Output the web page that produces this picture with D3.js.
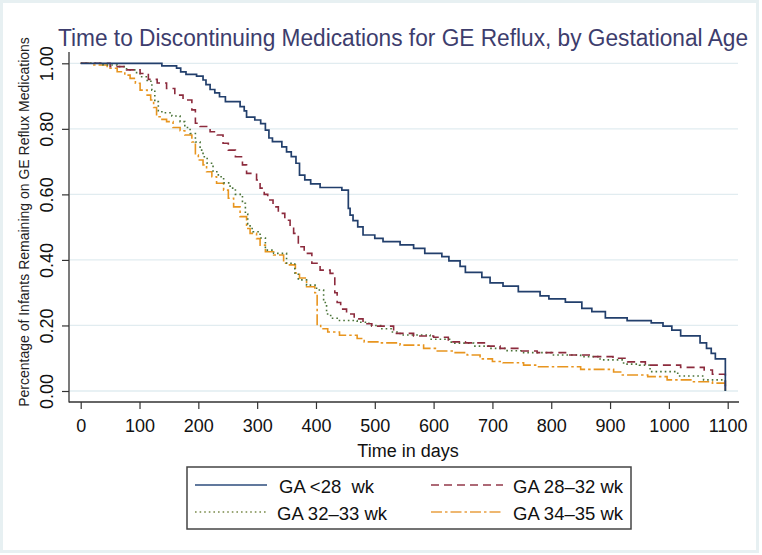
<!DOCTYPE html>
<html><head><meta charset="utf-8">
<script src="https://cdn.jsdelivr.net/npm/d3@7"></script>
<style>
body{margin:0;background:#fff}
svg{display:block;font-family:"Liberation Sans",Arial,Helvetica,sans-serif}
</style>
</head><body>
<svg id="chart" width="762" height="555"></svg>
<script>
// ---- data ----
const titleText = "Time to Discontinuing  Medications  for GE Reflux, by Gestational Age";
const xLabel = "Time in days";
const yLabel = "Percentage of Infants Remaining on GE Reflux Medications";
const xTicks = [0,100,200,300,400,500,600,700,800,900,1000,1100];
const yTicks = [0,0.2,0.4,0.6,0.8,1.0];
const seriesNames = ["GA <28  wk","GA 28\u201332 wk","GA 32\u201333 wk","GA 34\u201335 wk"];

// [day, proportion remaining] step points
const gaLt28 = [[0,1.0],[138,0.992],[163,0.985],[170,0.974],[179,0.966],[197,0.961],[208,0.949],[213,0.935],[220,0.92],[228,0.91],[236,0.898],[246,0.883],[271,0.868],[278,0.855],[282,0.836],[296,0.827],[306,0.816],[314,0.796],[320,0.772],[326,0.761],[342,0.745],[350,0.730],[358,0.715],[366,0.695],[372,0.659],[381,0.644],[391,0.632],[407,0.621],[444,0.613],[455,0.557],[458,0.537],[463,0.52],[471,0.501],[480,0.476],[500,0.466],[514,0.456],[543,0.446],[566,0.435],[585,0.420],[614,0.410],[626,0.397],[645,0.38],[654,0.362],[682,0.347],[696,0.330],[718,0.320],[744,0.303],[781,0.290],[796,0.281],[824,0.271],[852,0.252],[869,0.242],[892,0.223],[929,0.215],[970,0.208],[990,0.198],[1005,0.186],[1020,0.168],[1053,0.147],[1064,0.130],[1072,0.115],[1079,0.098],[1096,0.0]];
const ga28to32 = [[0,1.0],[50,0.990],[78,0.980],[101,0.969],[115,0.951],[130,0.940],[146,0.923],[160,0.903],[174,0.888],[189,0.858],[195,0.817],[203,0.807],[220,0.791],[232,0.781],[242,0.756],[251,0.735],[263,0.715],[275,0.69],[282,0.664],[299,0.644],[305,0.619],[312,0.600],[318,0.583],[327,0.562],[336,0.542],[347,0.521],[356,0.500],[362,0.481],[370,0.440],[380,0.420],[393,0.390],[407,0.369],[424,0.359],[432,0.30],[436,0.27],[442,0.25],[452,0.235],[465,0.22],[480,0.205],[495,0.198],[532,0.176],[566,0.168],[600,0.164],[625,0.150],[654,0.147],[690,0.137],[713,0.130],[747,0.122],[776,0.117],[827,0.110],[872,0.105],[905,0.100],[930,0.089],[960,0.079],[1020,0.072],[1060,0.064],[1074,0.051],[1096,0.0]];
const ga32to33 = [[0,1.0],[38,0.995],[62,0.990],[78,0.980],[95,0.969],[101,0.959],[113,0.945],[121,0.918],[126,0.883],[132,0.855],[138,0.849],[155,0.839],[169,0.822],[177,0.804],[186,0.786],[195,0.76],[203,0.735],[208,0.715],[215,0.695],[225,0.669],[234,0.654],[243,0.635],[254,0.619],[263,0.60],[275,0.573],[280,0.54],[284,0.51],[288,0.496],[293,0.486],[305,0.467],[314,0.430],[328,0.420],[350,0.390],[364,0.36],[370,0.339],[384,0.323],[401,0.308],[413,0.27],[418,0.235],[425,0.222],[440,0.215],[470,0.21],[490,0.20],[510,0.19],[530,0.18],[543,0.171],[594,0.158],[630,0.146],[668,0.137],[696,0.130],[725,0.123],[753,0.117],[800,0.110],[850,0.105],[883,0.095],[923,0.082],[950,0.079],[968,0.059],[1015,0.046],[1059,0.034],[1096,0.0]];
const ga34to35 = [[0,1.0],[21,0.995],[45,0.985],[62,0.974],[75,0.964],[84,0.954],[93,0.939],[101,0.918],[113,0.903],[119,0.888],[124,0.865],[129,0.837],[135,0.829],[146,0.822],[157,0.804],[169,0.794],[177,0.781],[189,0.76],[195,0.720],[200,0.705],[208,0.690],[214,0.669],[223,0.654],[231,0.634],[243,0.613],[251,0.588],[260,0.562],[271,0.532],[282,0.496],[288,0.481],[299,0.465],[305,0.445],[314,0.425],[328,0.415],[345,0.39],[355,0.385],[365,0.36],[372,0.345],[384,0.318],[398,0.30],[402,0.20],[408,0.19],[420,0.18],[440,0.17],[470,0.16],[482,0.15],[509,0.147],[543,0.140],[583,0.130],[603,0.122],[634,0.117],[657,0.110],[679,0.098],[700,0.09],[718,0.086],[753,0.079],[776,0.074],[850,0.066],[906,0.058],[918,0.049],[964,0.044],[997,0.034],[1040,0.028],[1074,0.024],[1096,0.0]];

const seriesData = [gaLt28, ga28to32, ga32to33, ga34to35];
const seriesColors = ["#223f6c","#8c2b3d","#4a7338","#e8951f"];
const legendColors = ["#2d4c7c","#93394a","#7a8a4a","#e9a042"];
const seriesDash = [null,"8,5","1.6,3","11,3,2.5,3"];

// ---- drawing ----
const svg = d3.select("#chart");
const W = 762, H = 555;

// faint outer frame
svg.append("rect").attr("x",1.5).attr("y",1.5).attr("width",W-6).attr("height",H-5)
  .attr("fill","none").attr("stroke","#e7f0f2").attr("stroke-width",3);

const x = d3.scaleLinear().domain([0,1100]).range([80.7,727.7]);
const y = d3.scaleLinear().domain([0,1]).range([391,63.3]);
const axisX0 = 69, axisY0 = 402;

// gridlines
svg.append("g").selectAll("line").data(yTicks).join("line")
  .attr("x1",axisX0+1).attr("x2",738)
  .attr("y1",d=>y(d)).attr("y2",d=>y(d))
  .attr("stroke","#e1ecf0").attr("stroke-width",1.3);

// x axis
const gx = svg.append("g").attr("transform",`translate(0,${axisY0})`)
  .call(d3.axisBottom(x).tickValues(xTicks).tickSize(7).tickSizeOuter(0).tickFormat(d3.format("d")));
gx.select(".domain").remove();
gx.selectAll(".tick line").attr("stroke","#333").attr("stroke-width",1.2);
gx.selectAll(".tick text").attr("y",30).attr("dy",0)
  .attr("font-size",18).attr("fill","#111").attr("font-family",null);

// y axis
const gy = svg.append("g").attr("transform",`translate(${axisX0},0)`)
  .call(d3.axisLeft(y).tickValues(yTicks).tickSize(7).tickSizeOuter(0).tickFormat(d3.format(".2f")));
gy.select(".domain").remove();
gy.selectAll(".tick line").attr("stroke","#333").attr("stroke-width",1.2);
gy.selectAll(".tick text").attr("x",0).attr("dy",0).attr("text-anchor","middle")
  .attr("transform","translate(-16,0) rotate(-90)")
  .attr("font-size",18).attr("fill","#111").attr("font-family",null);

// axis lines
svg.append("line").attr("x1",axisX0).attr("x2",axisX0).attr("y1",52).attr("y2",axisY0+0.6)
  .attr("stroke","#333").attr("stroke-width",1.3);
svg.append("line").attr("x1",axisX0).attr("x2",739).attr("y1",axisY0).attr("y2",axisY0)
  .attr("stroke","#333").attr("stroke-width",1.3);

// curves
const line = d3.line().x(d=>x(d[0])).y(d=>y(d[1])).curve(d3.curveStepAfter);
seriesData.slice().reverse().forEach((data,ri)=>{
  const i = seriesData.length-1-ri;
  svg.append("path").datum(data).attr("d",line)
    .attr("fill","none").attr("stroke",seriesColors[i])
    .attr("stroke-width",i===0?1.7:1.6)
    .attr("stroke-dasharray",seriesDash[i]);
});

// title
svg.append("text").attr("x",58).attr("y",46).text(titleText)
  .attr("font-size",23).attr("fill","#3d3d6d")
  .attr("textLength",690).attr("lengthAdjust","spacingAndGlyphs");

// axis titles
svg.append("text").attr("x",408).attr("y",457).attr("text-anchor","middle")
  .attr("font-size",18).attr("fill","#111").text(xLabel);
svg.append("text").attr("transform","translate(29,222) rotate(-90)")
  .attr("text-anchor","middle").attr("font-size",14).attr("fill","#222").text(yLabel);

// legend
const lg = svg.append("g");
lg.append("rect").attr("x",187).attr("y",467).attr("width",444).attr("height",62)
  .attr("fill","#fff").attr("stroke","#444").attr("stroke-width",1.5);
const legPos = [[195,485,279],[431,485,513],[195,512,277],[431,512,513]];
seriesNames.forEach((name,i)=>{
  const [lx,ly,tx] = legPos[i];
  lg.append("line").attr("x1",lx).attr("x2",lx+72).attr("y1",ly).attr("y2",ly)
    .attr("stroke",legendColors[i]).attr("stroke-width",1.7)
    .attr("stroke-dasharray",seriesDash[i]);
  lg.append("text").attr("x",tx).attr("y",ly+7.5).attr("font-size",18.5)
    .attr("fill","#111").attr("xml:space","preserve").style("white-space","pre").text(name);
});
</script>
</body></html>
